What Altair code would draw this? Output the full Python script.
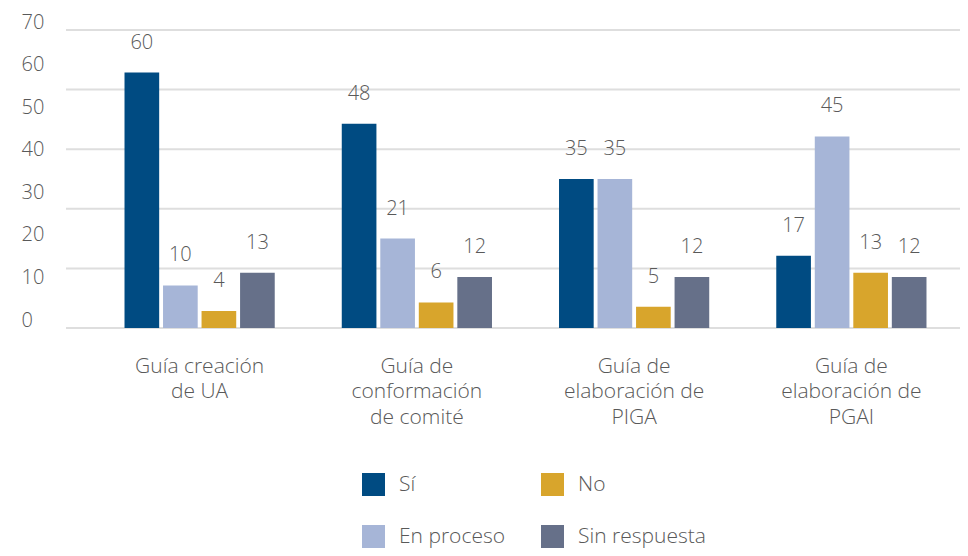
import altair as alt
import pandas as pd

categories = ["Guía creación\nde UA", "Guía de\nconformación\nde comité",
              "Guía de\nelaboración de\nPIGA", "Guía de\nelaboración de\nPGAI"]
series = ["Sí", "En proceso", "No", "Sin respuesta"]
si = [60, 48, 35, 17]
en_proceso = [10, 21, 35, 45]
no = [4, 6, 5, 13]
sin_respuesta = [13, 12, 12, 12]
y_ticks = [0, 10, 20, 30, 40, 50, 60, 70]
grid_values = [0, 14, 28, 42, 56, 70]

legend_order = ["Sí", "En proceso", "No", "Sin respuesta"]
colors = {"Sí": "#004B82", "En proceso": "#A6B5D7", "No": "#D8A52C", "Sin respuesta": "#667089"}

rows = []
for s, vals in zip(series, [si, en_proceso, no, sin_respuesta]):
    for c, v in zip(categories, vals):
        rows.append({"Categoria": c, "Serie": s, "Valor": v})
df = pd.DataFrame(rows)

FONT = "Open Sans"
TXT = "#595959"
yscale = alt.Scale(domain=[0, 70], nice=False)
yaxis = alt.Axis(title=None, values=y_ticks, grid=False, ticks=False, tickSize=0,
                 domain=False, labelAlign="left", labelPadding=45, labelOffset=-8,
                 labelFontSize=20, labelColor=TXT, labelFont=FONT, labelFontWeight=300)

grid = alt.Chart(pd.DataFrame({"v": grid_values})).mark_rule(
    color="#DEDEDE", strokeWidth=2
).encode(y=alt.Y("v:Q", scale=yscale, axis=yaxis))

xenc = alt.X("Categoria:N", sort=categories,
             scale=alt.Scale(range=[25, 894], paddingInner=0, paddingOuter=0),
             axis=alt.Axis(title=None, labelExpr="split(datum.label, '\\n')",
                           labelAngle=0, ticks=False, domain=False, labelPadding=27,
                           labelFontSize=21, labelLineHeight=25.5, labelColor=TXT,
                           labelFont=FONT, labelFontWeight=300, labelBaseline="top"))
xoff = alt.XOffset("Serie:N", sort=series,
                   scale=alt.Scale(paddingInner=0.1, paddingOuter=0.87))

bars = alt.Chart(df).mark_bar().encode(
    x=xenc,
    xOffset=xoff,
    y=alt.Y("Valor:Q", scale=yscale, axis=yaxis),
    color=alt.Color("Serie:N",
                    scale=alt.Scale(domain=legend_order, range=[colors[s] for s in legend_order]),
                    legend=alt.Legend(title=None, orient="none", legendX=296, legendY=443,
                                      columns=2, symbolType="square", symbolSize=529,
                                      symbolStrokeWidth=0, labelFontSize=21, labelColor=TXT,
                                      labelFont=FONT, labelFontWeight=300, labelOffset=14,
                                      columnPadding=35, rowPadding=29, padding=0)),
)

labels = alt.Chart(df).mark_text(
    dy=-30, baseline="middle", fontSize=20, color=TXT, font=FONT, fontWeight=300
).encode(
    x=alt.X("Categoria:N", sort=categories),
    xOffset=alt.XOffset("Serie:N", sort=series),
    y=alt.Y("Valor:Q", scale=yscale, axis=yaxis),
    text="Valor:Q",
)

chart = alt.layer(grid, bars, labels).properties(
    width=894, height=298,
    autosize=alt.AutoSizeParams(type="none"),
    padding={"left": 58, "top": 22, "right": 0, "bottom": 220},
).configure_view(stroke=None)

chart.save("out.html", embed_options={"renderer": "svg", "actions": False})
